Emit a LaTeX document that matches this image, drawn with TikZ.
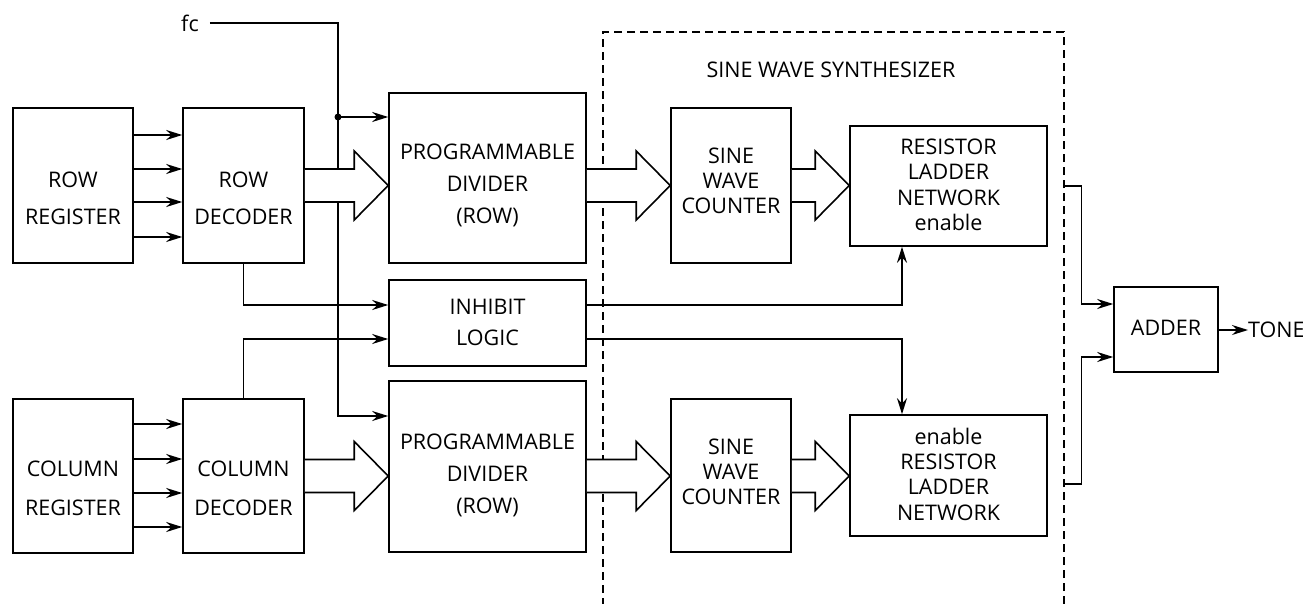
\documentclass[tikz,border=0pt]{standalone}
\usepackage{fontspec}
\setmainfont{Open Sans}
\usetikzlibrary{arrows.meta,calc}
\tikzset{
  blk/.style={draw, line width=1.6pt, inner sep=0pt, rectangle},
  lbl/.style={align=center, inner sep=0pt, font=\fontsize{21.5}{#1}\selectfont},
  lbl/.default=25,
  conn/.style={line width=1.5pt},
  arr/.style={conn, -{Stealth[length=16pt, width=10pt]}},
  big/.style={line width=1.6pt, fill=white, line join=miter},
  dashbox/.style={draw, line width=1.3pt, dash pattern=on 8pt off 5pt, inner sep=0pt}
}
\newcommand{\hollowarrow}[2]{%
  \draw[big] ($(#1)+(0,-16.5)$) -- ($(#2)+(-34,-16.5)$) -- ($(#2)+(-34,-34.5)$) -- (#2)
    -- ($(#2)+(-34,34.5)$) -- ($(#2)+(-34,16.5)$) -- ($(#1)+(0,16.5)$);}
\begin{document}
\begin{tikzpicture}[x=1pt, y=-1pt]
\useasboundingbox (0,0) rectangle (1303,603);
% dashed synthesizer frame
\node[dashbox, minimum width=461, minimum height=618] (synth) at (833.5,341) {};
\node[lbl] (title) at (831,70) {SINE WAVE SYNTHESIZER};
% boxes
\node[blk, minimum width=120, minimum height=155] (rr) at (73,185.5) {};
\node[blk, minimum width=121, minimum height=155] (rd) at (243.5,185.5) {};
\node[blk, minimum width=120, minimum height=154] (cr) at (73,476) {};
\node[blk, minimum width=121, minimum height=154] (cd) at (243.5,476) {};
\node[blk, minimum width=197, minimum height=170] (pd1) at (487.5,178) {};
\node[blk, minimum width=197, minimum height=86] (inh) at (487.5,323) {};
\node[blk, minimum width=197, minimum height=171] (pd2) at (487.5,466.5) {};
\node[blk, minimum width=120, minimum height=155] (swc1) at (731,185.5) {};
\node[blk, minimum width=120, minimum height=153] (swc2) at (731,475.5) {};
\node[blk, minimum width=197, minimum height=120] (rln1) at (948.5,186) {};
\node[blk, minimum width=197, minimum height=121] (rln2) at (948.5,475.5) {};
\node[blk, minimum width=104, minimum height=85] (adder) at (1166,329.5) {};
% labels
\node[lbl=37] (trr) at (73,198.5) {ROW\\REGISTER};
\node[lbl=37] (trd) at (243.5,198.5) {ROW\\DECODER};
\node[lbl=39] (tcr) at (73,488.5) {COLUMN\\REGISTER};
\node[lbl=39] (tcd) at (243.5,488.5) {COLUMN\\DECODER};
\node[lbl=32] (tpd1) at (487.5,185) {PROGRAMMABLE\\DIVIDER\\(ROW)};
\node[lbl=31] (tinh) at (487.5,322) {INHIBIT\\LOGIC};
\node[lbl=32] (tpd2) at (487.5,475) {PROGRAMMABLE\\DIVIDER\\(ROW)};
\node[lbl=25] (tswc1) at (731,180.5) {SINE\\WAVE\\COUNTER};
\node[lbl=25] (tswc2) at (731,471.5) {SINE\\WAVE\\COUNTER};
\node[lbl=25.5] (trln1) at (948.5,185) {RESISTOR\\LADDER\\NETWORK\\enable};
\node[lbl=25.3] (trln2) at (948.5,474) {enable\\RESISTOR\\LADDER\\NETWORK};
\node[lbl] (tadd) at (1166,328) {ADDER};
\node[lbl, anchor=west] (tone) at (1248,330) {TONE};
\node[lbl] (fc) at (190,23) {fc};
% register -> decoder
\foreach \yy in {135,169,202,237}{\draw[arr] (rr.east |- 0,\yy) -- (rd.west |- 0,\yy);}
\foreach \yy in {424,459,493,527}{\draw[arr] (cr.east |- 0,\yy) -- (cd.west |- 0,\yy);}
% fc distribution
\coordinate (j) at (338,117);
\draw[conn] ([xshift=11pt]fc.east) -| (j);
\draw[arr] (j) -- (pd1.west |- j);
\draw[arr] (j) |- (pd2.west |- 0,416);
\fill (j) circle (3.5pt);
% decoders -> inhibit
\draw[arr] (rd.south) |- (inh.west |- 0,305);
\draw[arr] (cd.north) |- (inh.west |- 0,339);
% inhibit -> ladders
\draw[arr] (inh.east |- 0,305) -| (rln1.south -| 902,0);
\draw[arr] (inh.east |- 0,339) -| (rln2.north -| 902,0);
% synthesizer -> adder
\draw[arr] (synth.east |- 0,186) -- ++(17,0) |- (adder.west |- 0,304);
\draw[arr] (synth.east |- 0,484) -- ++(17,0) |- (adder.west |- 0,357);
\draw[arr] (adder.east |- tone.west) -- (tone.west);
% hollow bus arrows
\coordinate (a1s) at (rd.east);
\coordinate (a1t) at (pd1.west |- rd.east);
\coordinate (a2s) at (pd1.east |- rd.east);
\coordinate (a2t) at (swc1.west);
\coordinate (a3s) at (swc1.east);
\coordinate (a3t) at (rln1.west |- swc1.east);
\coordinate (b1s) at (cd.east);
\coordinate (b1t) at (pd2.west |- cd.east);
\coordinate (b2s) at (pd2.east |- cd.east);
\coordinate (b2t) at (swc2.west |- cd.east);
\coordinate (b3s) at (swc2.east |- cd.east);
\coordinate (b3t) at (rln2.west |- cd.east);
\hollowarrow{a1s}{a1t}
\hollowarrow{a2s}{a2t}
\hollowarrow{a3s}{a3t}
\hollowarrow{b1s}{b1t}
\hollowarrow{b2s}{b2t}
\hollowarrow{b3s}{b3t}
\end{tikzpicture}
\end{document}
